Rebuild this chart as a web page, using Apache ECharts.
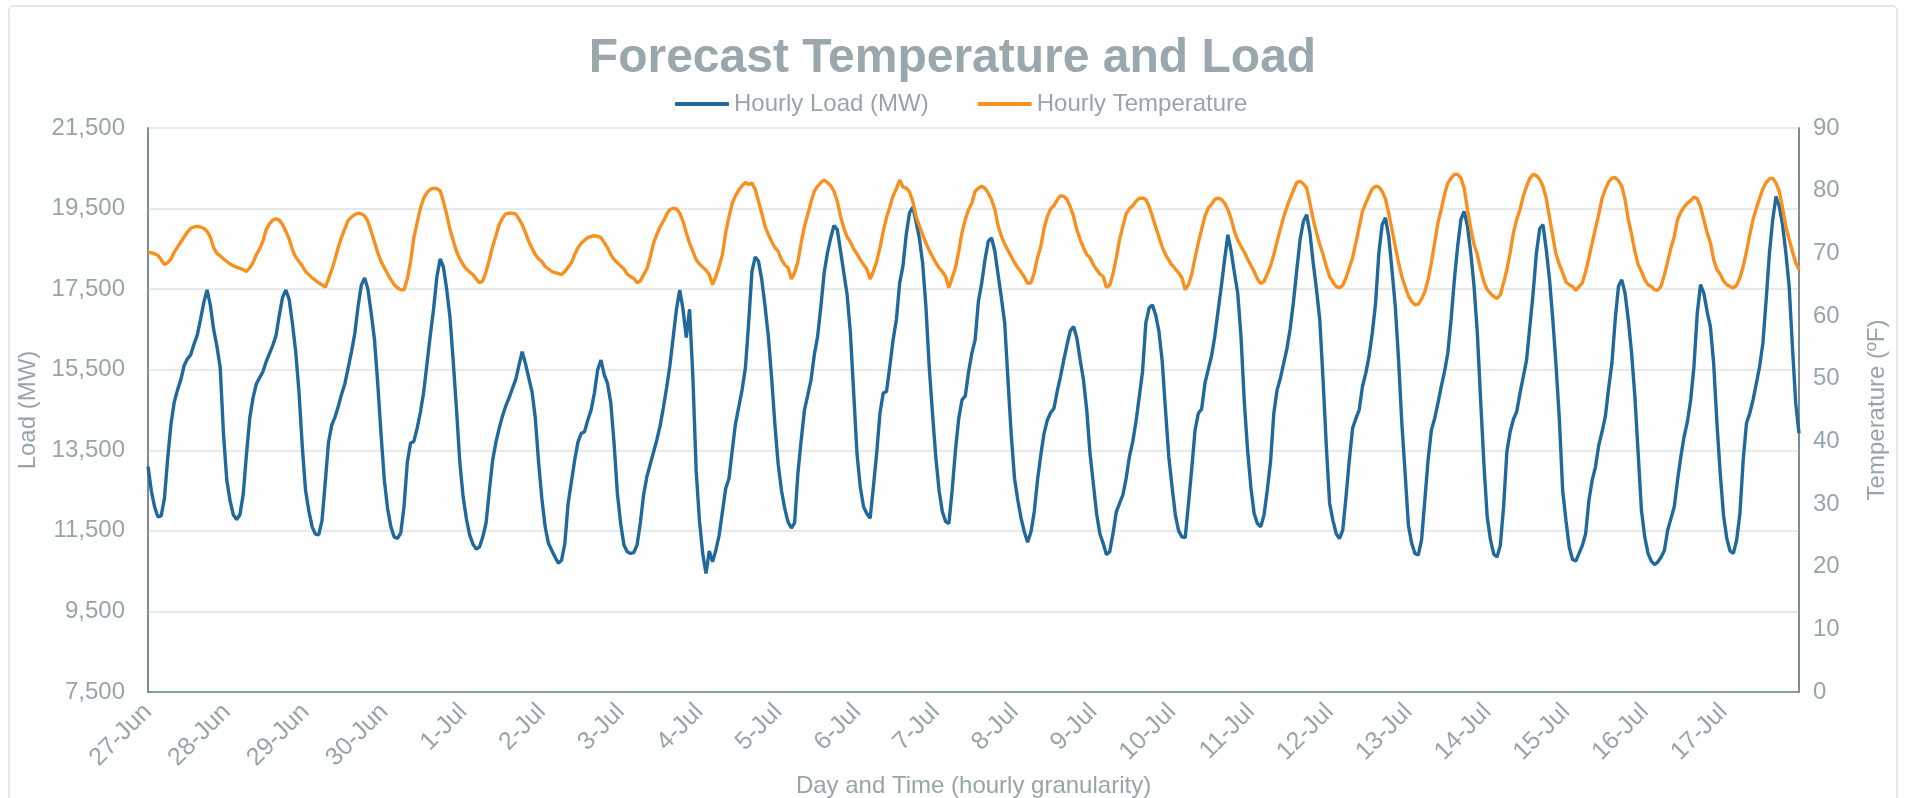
<!DOCTYPE html>
<html>
<head>
<meta charset="utf-8">
<script src="https://cdn.jsdelivr.net/npm/echarts@6/dist/echarts.min.js"></script>
<style>
html,body{margin:0;padding:0;background:#fff;overflow:hidden;}
#frame{position:absolute;left:8px;top:5px;width:1890px;height:793px;border:2px solid #E4E8E9;border-bottom:none;border-radius:6px 6px 0 0;box-sizing:border-box;}
#chart{position:absolute;left:0;top:0;width:1905px;height:798px;}
</style>
</head>
<body>
<div id="frame"></div>
<div id="chart"></div>
<script>
// Day labels (one per 24 hourly points)
const days = ["27-Jun","28-Jun","29-Jun","30-Jun","1-Jul","2-Jul","3-Jul","4-Jul","5-Jul","6-Jul","7-Jul",
  "8-Jul","9-Jul","10-Jul","11-Jul","12-Jul","13-Jul","14-Jul","15-Jul","16-Jul","17-Jul"];

// Hourly Load (MW), 24 values per day
const loadMW = [
13100,12500,12100,11850,11870,12300,13300,14150,14700,15000,15250,15600,15770,15870,16130,16360,16750,17170,17480,17100,16500,16080,15550,13900,
12760,12250,11900,11780,11900,12400,13400,14300,14800,15150,15300,15450,15700,15900,16100,16350,16850,17300,17480,17250,16650,15950,14950,13600,
12500,12000,11600,11420,11400,11750,12700,13700,14130,14330,14600,14900,15160,15550,15950,16400,17070,17600,17780,17500,16900,16250,15150,13900,
12760,12050,11600,11350,11310,11450,12100,13200,13680,13720,14050,14450,14950,15650,16350,17000,17800,18250,18050,17500,16800,15700,14500,13200,
12350,11800,11400,11170,11050,11100,11350,11700,12500,13250,13700,14050,14350,14600,14800,15030,15250,15600,15950,15650,15300,14950,14300,13200,
12300,11600,11190,11020,10850,10700,10770,11190,12180,12720,13260,13710,13920,13960,14250,14500,14920,15500,15740,15380,15160,14670,13670,12430,
11680,11150,10980,10940,10960,11150,11700,12400,12850,13150,13450,13750,14100,14550,15050,15600,16300,17000,17480,17000,16300,17000,15330,13000,
11760,10940,10440,11000,10730,11020,11390,11970,12550,12800,13500,14170,14580,15000,15540,16660,17940,18300,18190,17730,17070,16320,15290,14130,
13150,12500,12050,11720,11570,11700,12930,13750,14500,14870,15250,15870,16320,17070,17900,18400,18770,19080,18980,18440,17900,17360,16410,14920,
13420,12590,12100,11930,11810,12590,13420,14420,14920,14960,15580,16240,16740,17650,18070,18850,19390,19540,19180,18770,18150,17070,15580,14420,
13340,12510,11980,11730,11680,12510,13500,14290,14750,14850,15450,15910,16240,17200,17650,18230,18690,18770,18440,17860,17280,16660,15250,13880,
12800,12260,11810,11470,11220,11470,11970,12760,13380,13920,14250,14430,14540,14960,15330,15740,16120,16470,16570,16280,15740,15250,14500,13420,
12680,11930,11430,11190,10910,10980,11430,11970,12180,12390,12800,13340,13710,14210,14830,15450,16660,17030,17110,16860,16450,15700,14500,13340,
12590,11890,11500,11350,11330,12180,13050,14000,14420,14520,15160,15500,15830,16320,16950,17570,18230,18850,18440,17900,17400,16320,14710,13510,
12590,11930,11680,11600,11890,12510,13220,14420,15000,15290,15660,16030,16530,17200,17980,18730,19180,19350,18890,18150,17490,16740,15250,13590,
12180,11760,11430,11310,11520,12350,13260,14050,14290,14500,15080,15410,15830,16410,17150,18400,19100,19270,18810,17980,17070,15750,14170,12930,
11640,11190,10940,10900,11270,12260,13260,14000,14290,14670,15080,15450,15910,16740,17730,18560,19230,19430,19060,18400,17570,16410,14750,13170,
11850,11280,10920,10850,11140,12100,13460,13960,14270,14460,14920,15330,15740,16570,17400,18400,19000,19100,18480,17730,16740,15580,14250,12500,
11760,11100,10790,10750,10940,11140,11430,12260,12760,13090,13630,13960,14340,15040,15660,16740,17570,17730,17400,16740,15910,14830,13420,12010,
11350,10940,10750,10660,10730,10850,11020,11520,11810,12100,12760,13340,13840,14210,14750,15580,16900,17610,17400,16950,16570,15660,14170,12930,
11890,11310,11000,10940,11270,11930,13260,14170,14420,14750,15160,15580,16160,17240,18400,19230,19800,19550,19100,18400,17570,16070,14670,13920
];

// Hourly Temperature (ºF), 24 values per day
const tempF = [
70.2,70.1,69.9,69.7,69.0,68.2,68.5,69.1,70.2,71.0,71.8,72.6,73.4,74.0,74.2,74.3,74.2,74.0,73.5,72.6,70.9,70.0,69.6,69.1,
68.7,68.3,68.0,67.8,67.6,67.4,67.1,67.7,68.5,69.8,70.7,71.9,73.8,74.7,75.3,75.5,75.3,74.6,73.5,72.3,70.6,69.4,68.7,68.0,
67.1,66.6,66.1,65.7,65.3,65.0,64.6,65.9,67.4,69.1,71.0,72.6,74.0,75.3,75.8,76.2,76.4,76.3,76.0,75.1,73.5,71.8,70.1,68.7,
67.7,66.7,65.8,65.0,64.5,64.2,64.2,65.9,68.7,72.5,74.9,77.2,78.8,79.7,80.2,80.4,80.3,80.0,78.3,76.2,73.8,72.0,70.3,69.1,
68.2,67.5,67.0,66.6,65.9,65.3,65.6,67.1,69.0,71.1,72.8,74.6,75.6,76.3,76.4,76.4,76.3,75.5,74.6,73.3,71.9,70.8,69.8,69.1,
68.7,67.9,67.5,67.1,66.9,66.8,66.6,67.1,67.8,68.5,69.8,70.9,71.6,72.1,72.5,72.7,72.8,72.7,72.5,71.7,70.9,69.8,69.0,68.5,
68.0,67.5,66.7,66.3,66.0,65.3,65.6,66.6,67.5,69.4,71.6,73.0,74.2,75.1,76.2,77.0,77.2,77.1,76.4,75.1,73.3,71.6,70.3,69.0,
68.3,67.8,67.3,66.6,65.0,66.3,67.9,69.8,73.3,75.8,78.0,79.2,80.1,80.8,81.3,81.0,81.2,80.2,78.3,76.4,74.3,73.0,71.9,70.9,
70.3,69.0,68.2,67.7,65.9,66.9,68.7,71.7,74.3,76.2,78.2,79.9,80.7,81.3,81.7,81.3,80.8,79.9,78.3,75.9,74.0,72.6,71.8,70.7,
69.9,69.0,68.2,67.5,65.9,67.1,68.7,70.9,73.5,75.7,77.4,79.2,80.3,81.7,80.6,80.4,79.8,78.3,75.9,74.4,73.0,71.6,70.5,69.5,
68.5,67.7,67.1,66.3,64.5,66.1,67.7,70.3,73.3,75.4,77.0,78.0,79.9,80.4,80.7,80.4,79.6,78.6,77.0,74.4,72.7,71.5,70.5,69.5,
68.5,67.7,67.0,66.2,65.2,65.3,66.9,69.3,71.1,74.0,75.9,77.1,77.6,78.5,79.2,79.1,78.6,77.4,75.9,73.7,72.2,70.9,69.8,69.3,
68.2,67.4,66.7,66.3,64.6,64.9,66.7,69.3,72.2,74.3,76.3,77.1,77.6,78.3,78.8,78.8,78.6,77.5,75.9,74.2,72.6,71.0,69.8,68.9,
68.1,67.5,66.9,66.1,64.2,65.0,66.7,69.3,71.7,73.8,75.9,77.2,77.8,78.6,78.8,78.6,78.0,77.0,75.5,73.5,72.1,71.1,70.2,69.1,
68.1,67.1,65.9,65.2,65.5,66.7,68.0,69.8,71.9,73.9,75.8,77.4,78.8,80.1,81.3,81.5,81.1,80.4,78.0,75.4,73.3,71.4,69.8,67.9,
66.3,65.4,64.7,64.5,64.9,66.1,67.7,69.3,71.7,74.2,76.7,78.0,79.2,80.3,80.7,80.6,79.9,78.7,76.4,73.8,71.1,68.5,66.3,64.7,
63.2,62.3,61.8,61.9,62.7,63.9,65.8,68.5,71.7,74.9,77.0,79.4,81.2,82.0,82.6,82.6,82.0,80.4,77.0,74.0,71.4,69.8,67.4,65.5,
64.2,63.6,63.1,62.8,63.4,65.3,67.4,70.1,73.3,75.4,77.0,79.1,80.7,82.0,82.6,82.4,81.8,80.7,78.8,75.7,72.7,69.8,68.2,66.9,
65.4,65.0,64.7,64.1,64.7,65.3,67.1,69.3,71.7,74.0,76.2,78.8,80.2,81.4,82.0,82.1,81.6,80.7,78.6,75.4,73.0,70.3,68.2,67.1,
65.8,65.0,64.7,64.2,64.1,64.8,66.6,68.7,70.9,72.7,75.4,76.6,77.4,78.0,78.4,79.0,78.7,77.4,75.4,73.3,71.7,69.0,67.4,66.7,
65.6,65.0,64.7,64.5,64.9,66.1,67.9,70.3,73.0,75.4,77.2,78.8,80.3,81.3,81.9,82.0,81.2,79.9,77.2,74.3,72.2,70.3,68.5,67.4
];

// Axis tick settings
const loadTicks = {min: 7500, max: 21500, step: 2000};
const tempTicks = {min: 0, max: 90, step: 10};

// hourly category labels built from the day list
const categories = [];
days.forEach(d => { for (let h = 0; h < 24; h++) categories.push(d + ' ' + String(h).padStart(2, '0') + ':00'); });

const txt = '#97A5AB';
const font = 'Liberation Sans, Arial, sans-serif';
const chart = echarts.init(document.getElementById('chart'), null, {renderer: 'canvas'});
chart.setOption({
  animation: false,
  backgroundColor: 'transparent',
  title: {
    text: 'Forecast Temperature and Load', left: 'center', top: 30,
    textStyle: {fontFamily: font, fontSize: 48, fontWeight: 'bold', color: '#9AA7AD'}
  },
  legend: {
    left: 670, top: 87, itemWidth: 54, itemHeight: 4, itemGap: 49, icon: 'roundRect',
    textStyle: {fontFamily: font, fontSize: 24, color: txt, padding: [0, 0, 0, 0]},
    data: ['Hourly Load (MW)', 'Hourly Temperature']
  },
  grid: {left: 148, right: 106, top: 128, bottom: 106, containLabel: false, outerBoundsMode: 'none',
    show: true, borderColor: '#8596A0', borderWidth: 1.5},
  xAxis: {
    type: 'category', data: categories, boundaryGap: false,
    name: 'Day and Time (hourly granularity)', nameLocation: 'middle', nameGap: 82,
    nameMoveOverlap: false,
    nameTextStyle: {fontFamily: font, fontSize: 24, color: txt},
    axisLine: {lineStyle: {color: '#6F828C', width: 1.5}},
    axisTick: {show: false},
    axisLabel: {
      interval: (i) => i % 24 === 0, rotate: 45, margin: 16,
      fontFamily: font, fontSize: 25, color: txt,
      formatter: (v) => v.split(' ')[0]
    },
    splitLine: {show: false}
  },
  yAxis: [{
    type: 'value', min: loadTicks.min, max: loadTicks.max, interval: loadTicks.step,
    name: 'Load (MW)', nameLocation: 'middle', nameGap: 101, nameRotate: 90,
    nameTextStyle: {fontFamily: font, fontSize: 24, color: txt},
    axisLine: {show: true, lineStyle: {color: '#6F828C', width: 1.5}},
    axisTick: {show: false},
    axisLabel: {margin: 23, fontFamily: font, fontSize: 24, color: txt,
      formatter: (v) => v.toLocaleString('en-US')},
    splitLine: {show: true, lineStyle: {color: '#E6EAEB', width: 2}}
  }, {
    type: 'value', min: tempTicks.min, max: tempTicks.max, interval: tempTicks.step,
    name: 'Temperature (ºF)', nameLocation: 'middle', nameGap: 66, nameRotate: 90,
    nameTextStyle: {fontFamily: font, fontSize: 24, color: txt},
    axisLine: {show: true, lineStyle: {color: '#6F828C', width: 1.5}},
    axisTick: {show: false},
    axisLabel: {margin: 14, fontFamily: font, fontSize: 24, color: txt},
    splitLine: {show: false}
  }],
  series: [{
    name: 'Hourly Load (MW)', type: 'line', yAxisIndex: 0, data: loadMW,
    symbol: 'none', smooth: false,
    lineStyle: {color: '#20699A', width: 3.4}, itemStyle: {color: '#20699A'}
  }, {
    name: 'Hourly Temperature', type: 'line', yAxisIndex: 1, data: tempF,
    symbol: 'none', smooth: false,
    lineStyle: {color: '#F7901E', width: 3.4}, itemStyle: {color: '#F7901E'}
  }]
});
</script>
</body>
</html>
